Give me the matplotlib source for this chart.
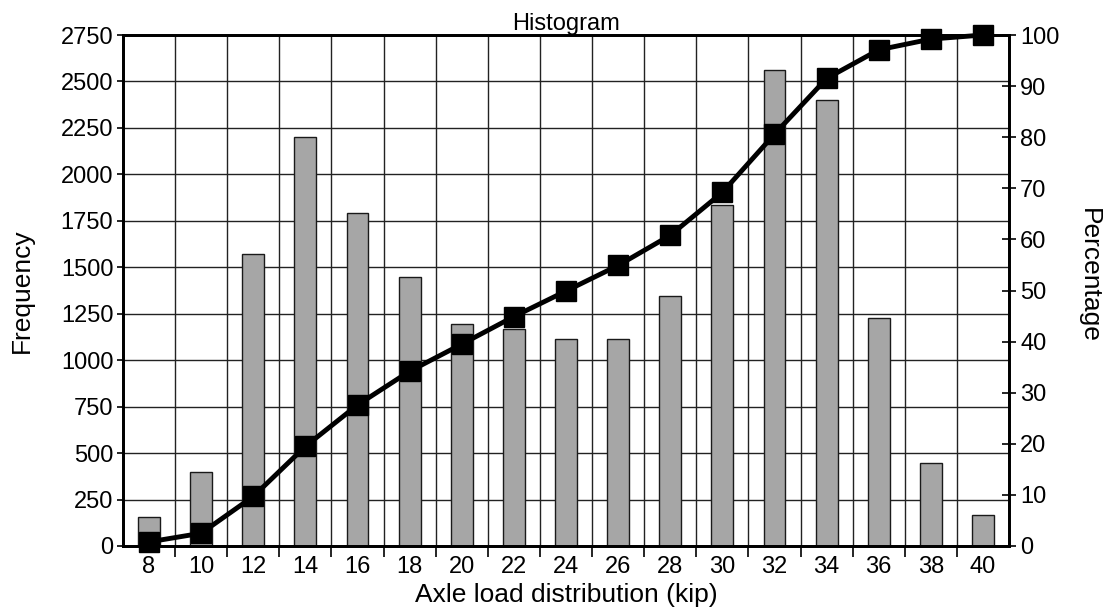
import matplotlib
matplotlib.use("Agg")
import matplotlib.pyplot as plt
import numpy as np

plt.rcParams["font.family"] = ["Liberation Sans", "DejaVu Sans"]

# Carga por eixo (kip), frequencia observada e percentual acumulado
cargas = [8, 10, 12, 14, 16, 18, 20, 22, 24, 26, 28, 30, 32, 34, 36, 38, 40]
frequencia = [155, 400, 1570, 2200, 1790, 1450, 1195, 1170, 1112, 1112,
              1347, 1835, 2560, 2400, 1225, 447, 167]
percentual = [0.8, 2.5, 9.7, 19.5, 27.6, 34.2, 39.5, 44.9, 49.9, 54.9,
              60.8, 69.2, 80.6, 91.5, 97.1, 99.2, 100.0]

freq_ticks = list(range(0, 2751, 250))
perc_ticks = list(range(0, 101, 10))


def desenhar():
    fig = plt.figure(figsize=(11.12, 6.13), dpi=100)
    ax = fig.add_axes([0.1106, 0.1093, 0.7968, 0.8336])

    pos = np.arange(len(cargas))
    ax.bar(pos, frequencia, width=0.42, color="#a6a6a6",
           edgecolor="#1a1a1a", linewidth=1.0, zorder=2)

    ax.set_xlim(-0.5, len(cargas) - 0.5)
    ax.set_ylim(0, 2750)
    ax.set_yticks(freq_ticks)
    ax.set_xticks(pos)
    ax.set_xticklabels([str(c) for c in cargas])
    # limites entre classes: grade vertical e marcas inferiores
    ax.set_xticks(pos[:-1] + 0.5, minor=True)
    ax.tick_params(axis="x", which="major", length=0, labelsize=17, pad=7)
    ax.tick_params(axis="x", which="minor", length=8, width=1.2, direction="out")
    ax.tick_params(axis="y", length=4, width=1.2, labelsize=17, pad=3)

    ax.grid(True, axis="y", which="major", color="#222222", linewidth=1.0, zorder=0)
    ax.grid(True, axis="x", which="minor", color="#222222", linewidth=1.0, zorder=0)
    ax.set_axisbelow(True)

    for lado in ["left", "right", "top", "bottom"]:
        ax.spines[lado].set_linewidth(2.0)

    ax.set_xlabel("Axle load distribution (kip)", fontsize=19, labelpad=4)
    ax.set_ylabel("Frequency", fontsize=19, va="center")
    ax.yaxis.set_label_coords(-0.114, 0.5)
    ax.set_title("Histogram", fontsize=17, pad=3)

    ax2 = ax.twinx()
    ax2.plot(pos, percentual, color="black", linewidth=3.5, marker="s",
             markersize=14, markerfacecolor="black", markeredgecolor="black",
             zorder=3, clip_on=False)
    ax2.set_ylim(0, 100)
    ax2.set_yticks(perc_ticks)
    ax2.tick_params(axis="y", direction="inout", length=10, width=1.2,
                    labelsize=17, pad=3)
    ax2.set_ylabel("Percentage", fontsize=19, rotation=-90, va="center")
    ax2.yaxis.set_label_coords(1.09, 0.53)
    for lado in ["left", "right", "top", "bottom"]:
        ax2.spines[lado].set_linewidth(2.0)

    fig.savefig("out.png", dpi=100)
    plt.close(fig)


if __name__ == "__main__":
    desenhar()
